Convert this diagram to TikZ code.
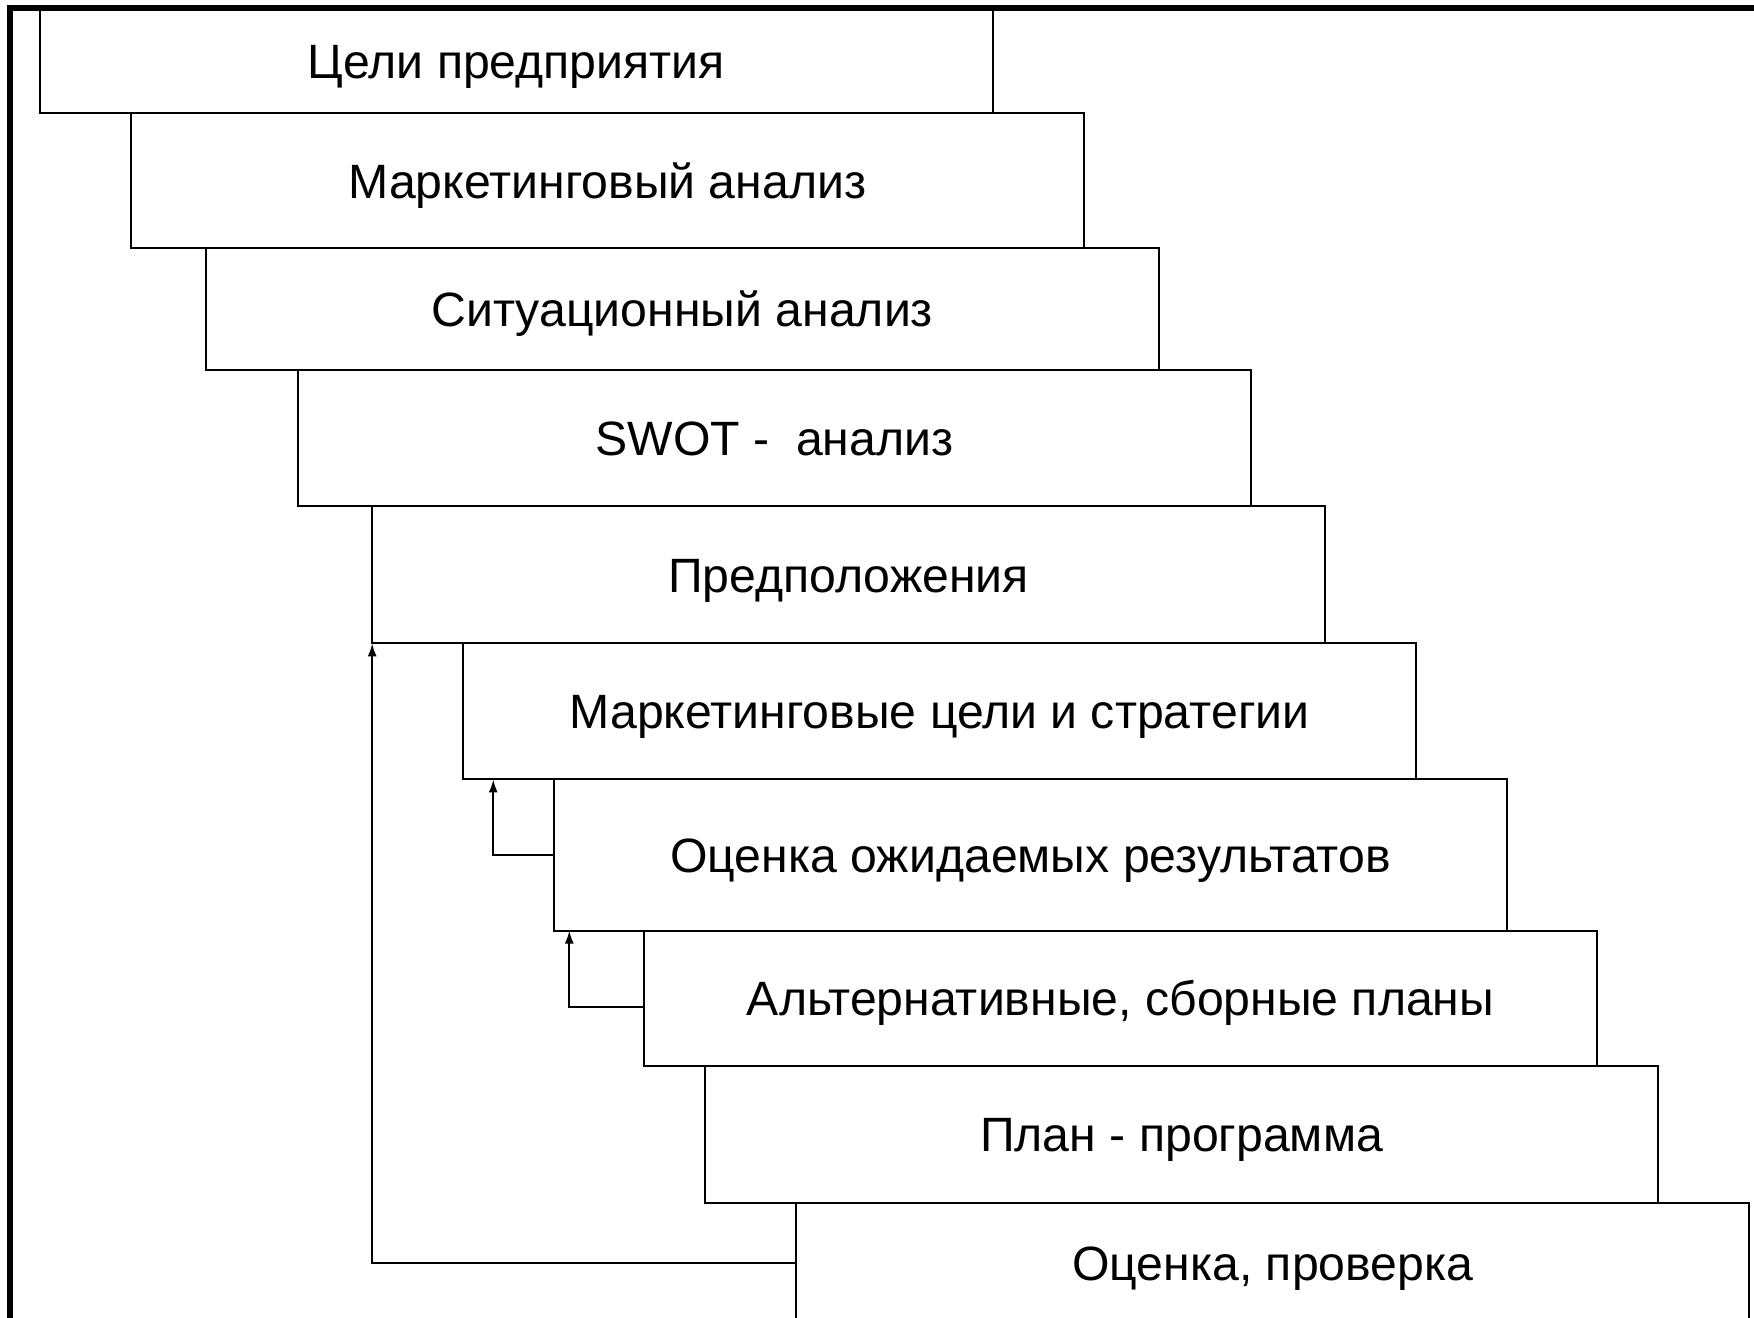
\documentclass[tikz,border=0pt]{standalone}
\usepackage{fontspec}
\setmainfont{Liberation Sans}
\usetikzlibrary{positioning,arrows.meta,calc}
\tikzset{
    % Stage boxes of the planning ladder
    stage/.style={
        rectangle, draw=black, line width=0.02cm,
        minimum width=9.52cm, inner sep=0pt, outer sep=0pt,
        text height=9.9pt, text depth=0pt,
        anchor=north west, font=\fontsize{13.7pt}{16pt}\selectfont
    },
    % Feedback connectors
    feedback/.style={
        draw=black, line width=0.02cm,
        -{Latex[length=0.13cm,width=0.09cm]}
    },
    frameline/.style={draw=black, line width=0.06cm}
}

\begin{document}
\begin{tikzpicture}[x=0.01cm,y=-0.01cm]
\useasboundingbox (0,0) rectangle (1754,1318);
\clip (0,0) rectangle (1754,1318);

% Outer frame
\draw[frameline] (10,1340) -- (10,8) -- (1780,8);

% Stages
\node[stage, minimum height=1.03cm] (goals) at (40,10) {Цели предприятия};
\node[stage, minimum height=1.35cm, below right=0cm and 0.91cm of goals.south west] (market) {Маркетинговый анализ};
\node[stage, minimum height=1.22cm, below right=0cm and 0.75cm of market.south west] (situation) {Ситуационный анализ};
\node[stage, minimum height=1.36cm, below right=0cm and 0.92cm of situation.south west] (swot) {SWOT -\ \ анализ};
\node[stage, minimum height=1.37cm, below right=0cm and 0.74cm of swot.south west] (assume) {Предположения};
\node[stage, minimum height=1.36cm, below right=0cm and 0.91cm of assume.south west] (mstrat) {Маркетинговые цели и стратегии};
\node[stage, minimum height=1.51cm, below right=0cm and 0.91cm of mstrat.south west] (expect) {Оценка ожидаемых результатов};
\node[stage, minimum height=1.35cm, below right=0cm and 0.90cm of expect.south west] (alt) {Альтернативные, сборные планы};
\node[stage, minimum height=1.37cm, below right=0cm and 0.61cm of alt.south west] (program) {План - программа};
\node[stage, minimum height=1.20cm, below right=0cm and 0.91cm of program.south west] (check) {Оценка, проверка};

% Feedback loops
\draw[feedback] (check.west) -| (assume.south west);
\draw[feedback] (expect.west) -| ($(mstrat.south west)+(30,0)$);
\draw[feedback] ([yshift=-0.09cm]alt.west) -| ($(expect.south west)+(15,0)$);

\end{tikzpicture}
\end{document}
